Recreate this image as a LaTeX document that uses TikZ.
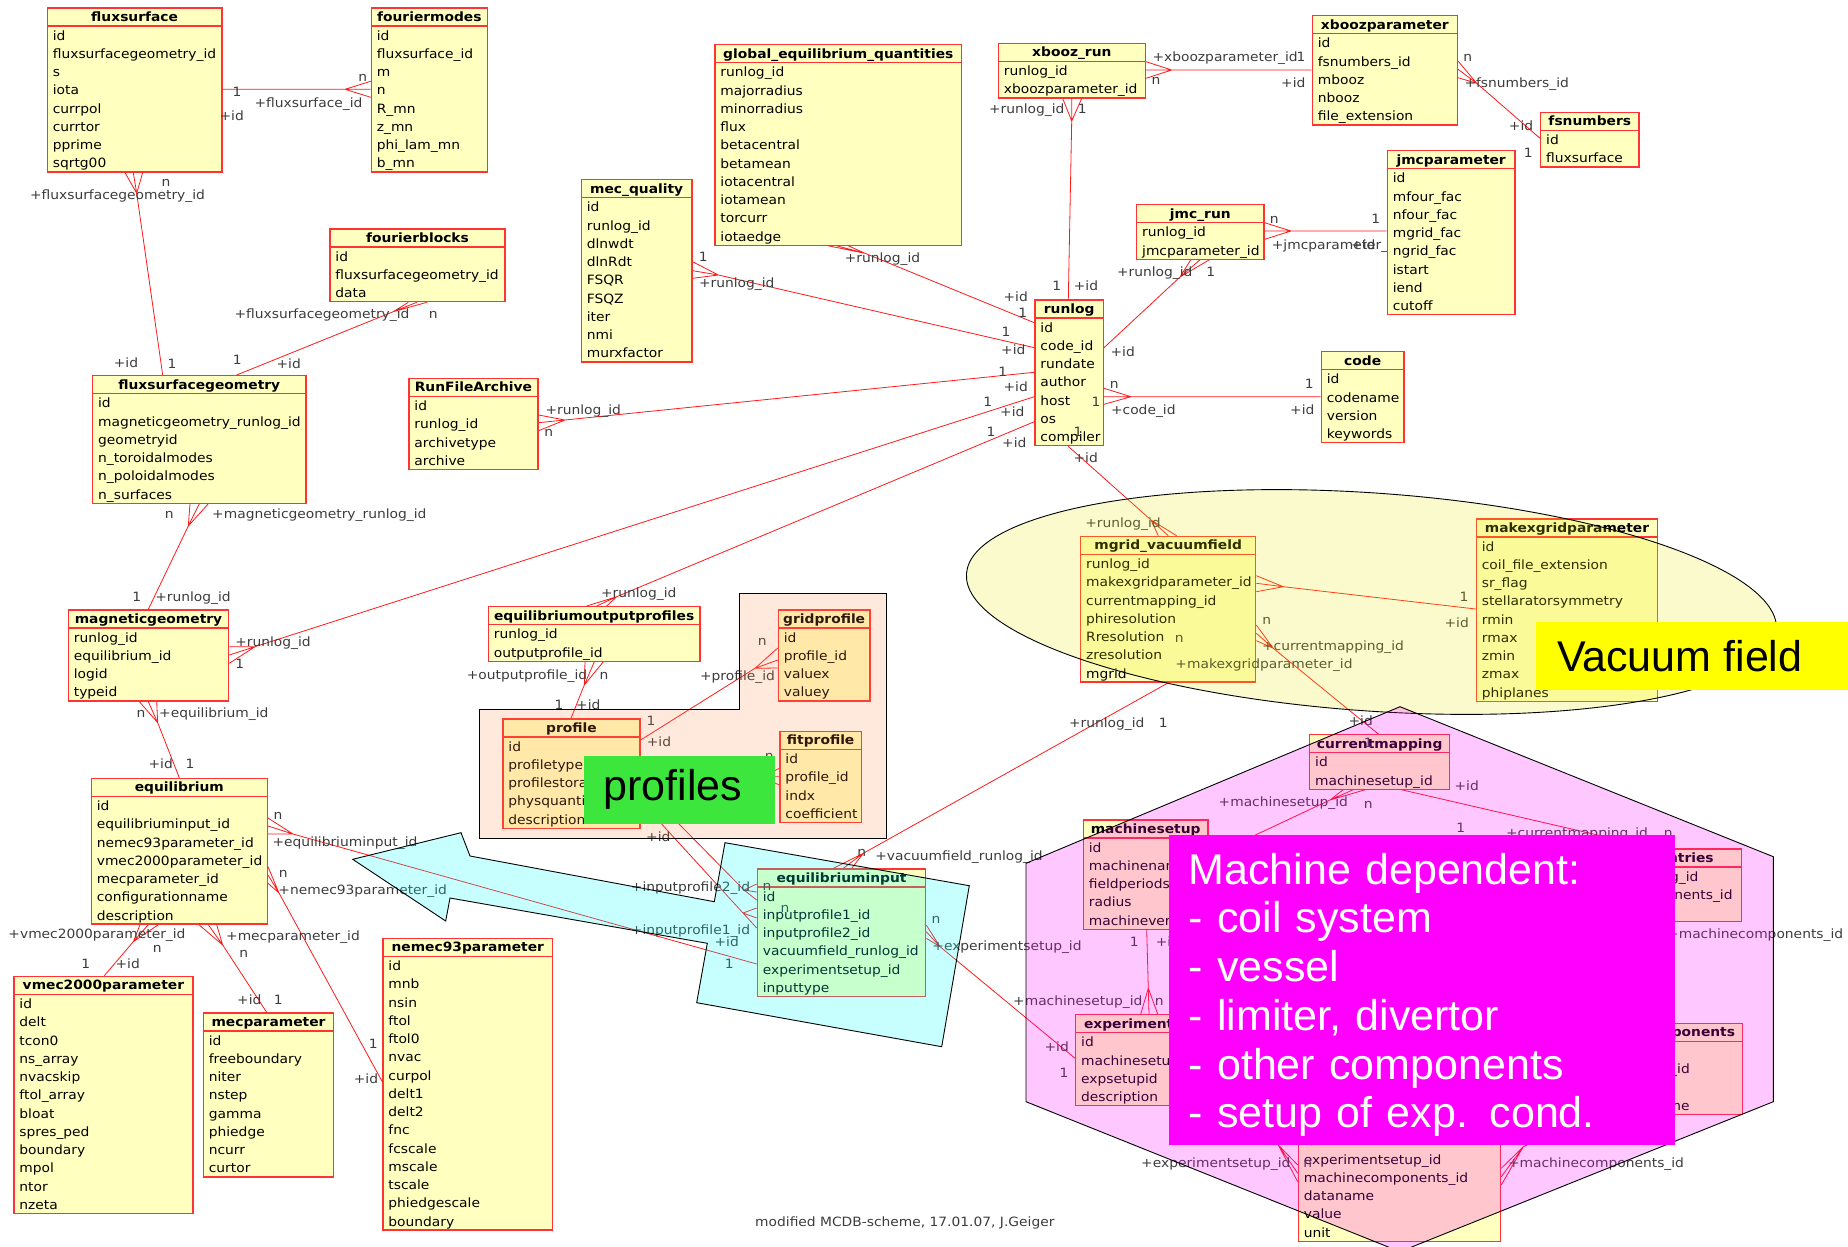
\documentclass[tikz,border=0pt]{standalone}
\usepackage{fontspec}
\newfontfamily\tblfont{DejaVu Sans}[FakeStretch=1.08]
\newfontfamily\bigfont{Liberation Sans}
\definecolor{tabfill}{HTML}{FFFFC0}
\definecolor{tabred}{HTML}{FF3333}
\definecolor{relred}{HTML}{FF1A1A}
\definecolor{lblgray}{HTML}{3C3C3C}
\definecolor{peach}{RGB}{255,128,64}
\definecolor{vacyellow}{RGB}{230,230,0}
\definecolor{profgreen}{HTML}{3DE63D}
\definecolor{capyellow}{RGB}{255,255,0}
\definecolor{capmagenta}{RGB}{255,0,255}
\definecolor{ovlcyan}{RGB}{0,255,255}

\tikzset{
  tabhead/.style={draw=tabred, fill=tabfill, line width=1.3pt, minimum height=18pt, inner sep=0pt,
    font=\tblfont\bfseries\fontsize{12.8}{15}\selectfont, text height=9.7pt, text depth=0.5pt},
  tabbody/.style={draw=tabred, fill=tabfill, line width=1.3pt, inner xsep=5.5pt, inner ysep=0pt,
    align=left, font=\tblfont\fontsize{12.8}{18.25}\selectfont},
  rel/.style={draw=relred, line width=0.8pt},
  lbl/.style={font=\tblfont\fontsize{12.8}{15}\selectfont, text=lblgray, inner sep=0pt,
    text height=9.7pt, text depth=0.5pt},
  ovl/.style={draw=black, line width=0.9pt},
}

\newcounter{lblno}
\newcommand\lb[3]{\stepcounter{lblno}\node[lbl] (lbl\arabic{lblno}) at (#1,#2) {#3};}
\newcommand\lbw[3]{\stepcounter{lblno}\node[lbl,anchor=west] (lbl\arabic{lblno}) at (#1,#2) {#3};}
% one end, branch point, three feet of the crow's foot
\newcommand\relline[5]{\draw[rel] #1 -- #2 -- #3 #2 -- #4 #2 -- #5;}
% name, x, y (top), width, title, rows
\newcommand\dbtab[6]{%
  \pgfmathsetmacro\dbw{#4}%
  \pgfmathsetmacro\dbtw{#4-11}%
  \node[tabhead, minimum width=\dbw pt, anchor=north west] (#1-h) at (#2,#3) {#5};
  \node[tabbody, text width=\dbtw pt, anchor=north west] (#1) at (#2,#3+18)
    {\setbox\strutbox\hbox{\vrule height14.2pt depth4.05pt width0pt}\noindent\begin{tabular}{@{}l@{}}#6\end{tabular}};
}

\begin{document}
\begin{tikzpicture}[x=1pt,y=-1pt]
\fill[white] (0,0) rectangle (1848,1247);
\useasboundingbox (0,0) rectangle (1848,1247);

% ---------------- tables ----------------
\dbtab{fluxsurface}{46.7}{7.3}{174.6}{fluxsurface}{id\\fluxsurfacegeometry\_id\\s\\iota\\currpol\\currtor\\pprime\\sqrtg00}
\dbtab{fouriermodes}{370.7}{7.3}{116}{fouriermodes}{id\\fluxsurface\_id\\m\\n\\R\_mn\\z\_mn\\phi\_lam\_mn\\b\_mn}
\dbtab{fourierblocks}{329.3}{228.3}{175}{fourierblocks}{id\\fluxsurfacegeometry\_id\\data}
\dbtab{fluxsurfacegeometry}{92}{375}{213.3}{fluxsurfacegeometry}{id\\magneticgeometry\_runlog\_id\\geometryid\\n\_toroidalmodes\\n\_poloidalmodes\\n\_surfaces}
\dbtab{magneticgeometry}{67.7}{609.3}{160.3}{magneticgeometry}{runlog\_id\\equilibrium\_id\\logid\\typeid}
\dbtab{equilibrium}{90.7}{777.7}{176}{equilibrium}{id\\equilibriuminput\_id\\nemec93parameter\_id\\vmec2000parameter\_id\\mecparameter\_id\\configurationname\\description}
\dbtab{vmec2000parameter}{13.3}{975.7}{179}{vmec2000parameter}{id\\delt\\tcon0\\ns\_array\\nvacskip\\ftol\_array\\bloat\\spres\_ped\\boundary\\mpol\\ntor\\nzeta}
\dbtab{mecparameter}{202.7}{1012.3}{130.3}{mecparameter}{id\\freeboundary\\niter\\nstep\\gamma\\phiedge\\ncurr\\curtor}
\dbtab{nemec93parameter}{382.3}{937.7}{169.7}{nemec93parameter}{id\\mnb\\nsin\\ftol\\ftol0\\nvac\\curpol\\delt1\\delt2\\fnc\\fcscale\\mscale\\tscale\\phiedgescale\\boundary}
\dbtab{rfa}{408.3}{377.7}{129}{RunFileArchive}{id\\runlog\_id\\archivetype\\archive}
\dbtab{mecquality}{580.7}{179}{110.6}{mec\_quality}{id\\runlog\_id\\dlnwdt\\dlnRdt\\FSQR\\FSQZ\\iter\\nmi\\murxfactor}
\dbtab{geq}{714.3}{44}{246.7}{global\_equilibrium\_quantities}{runlog\_id\\majorradius\\minorradius\\flux\\betacentral\\betamean\\iotacentral\\iotamean\\torcurr\\iotaedge}
\dbtab{runlog}{1034.3}{299.3}{68.4}{runlog}{id\\code\_id\\rundate\\author\\host\\os\\compiler}
\dbtab{xboozrun}{997.7}{42.7}{147}{xbooz\_run}{runlog\_id\\xboozparameter\_id}
\dbtab{xboozparameter}{1311.7}{15}{145}{xboozparameter}{id\\fsnumbers\_id\\mbooz\\nbooz\\file\_extension}
\dbtab{fsnumbers}{1540}{111.7}{98.3}{fsnumbers}{id\\fluxsurface}
\dbtab{jmcrun}{1136}{204}{127.3}{jmc\_run}{runlog\_id\\jmcparameter\_id}
\dbtab{code}{1320.7}{351}{82.6}{code}{id\\codename\\version\\keywords}
\dbtab{mgrid}{1080}{535.7}{175}{mgrid\_vacuumfield}{runlog\_id\\makexgridparameter\_id\\currentmapping\_id\\phiresolution\\Rresolution\\zresolution\\mgrid}
\dbtab{makexgrid}{1475.7}{518.3}{181.3}{makexgridparameter}{id\\coil\_file\_extension\\sr\_flag\\stellaratorsymmetry\\rmin\\rmax\\zmin\\zmax\\phiplanes}
\dbtab{eop}{487.7}{606}{211.6}{equilibriumoutputprofiles}{runlog\_id\\outputprofile\_id}
\dbtab{profile}{502.3}{718.3}{137}{profile}{id\\profiletype\\profilestorage\\physquantity\\description}
\dbtab{gridprofile}{777.7}{609.3}{91.6}{gridprofile}{id\\profile\_id\\valuex\\valuey}
\dbtab{fitprofile}{779.3}{730.7}{81.4}{fitprofile}{id\\profile\_id\\indx\\coefficient}
\dbtab{eqinput}{756.7}{868.3}{168.3}{equilibriuminput}{id\\inputprofile1\_id\\inputprofile2\_id\\vacuumfield\_runlog\_id\\experimentsetup\_id\\inputtype}
\dbtab{currentmapping}{1309}{734}{140}{currentmapping}{id\\machinesetup\_id}
\dbtab{machinesetup}{1082.7}{819.3}{124.6}{machinesetup}{id\\machinename\\fieldperiods\\radius\\machineversion}
\dbtab{expsetup}{1075}{1014}{150}{experimentsetup}{id\\machinesetup\_id\\expsetupid\\description}
\dbtab{mapentries}{1562}{848.3}{179}{mappingentries}{currentmapping\_id\\machinecomponents\_id\\coilnumber}
\dbtab{machinecomp}{1566}{1022.7}{175.7}{machinecomponents}{id\\machinesetup\_id\\type\\componentname}
\dbtab{expdata}{1297.7}{1113}{202.3}{experimentdata}{id\\experimentsetup\_id\\machinecomponents\_id\\dataname\\value\\unit}

% ---------------- relations ----------------
\relline{(fluxsurface.east |- 0,89.3)}{(345,89.3)}{(fouriermodes.west |- 0,81.3)}{(fouriermodes.west |- 0,89.3)}{(fouriermodes.west |- 0,97.3)}
\relline{(fluxsurfacegeometry-h.north -| 162.7,0)}{(136.7,193.3)}{(fluxsurface.south -| 125,0)}{(fluxsurface.south -| 133.3,0)}{(fluxsurface.south -| 142.7,0)}
\relline{(fluxsurfacegeometry-h.north -| 236.7,0)}{(393.3,311.7)}{(fourierblocks.south -| 408.3,0)}{(fourierblocks.south -| 416.7,0)}{(fourierblocks.south -| 426.7,0)}
\relline{(magneticgeometry-h.north -| 148.3,0)}{(188.3,526)}{(fluxsurfacegeometry.south -| 190,0)}{(fluxsurfacegeometry.south -| 199.3,0)}{(fluxsurfacegeometry.south -| 208.3,0)}
\relline{(runlog.west |- 0,396.7)}{(255,646.7)}{(magneticgeometry.east |- 0,646.7)}{(magneticgeometry.east |- 0,655)}{(magneticgeometry.east |- 0,663.3)}
\relline{(equilibrium-h.north -| 179.3,0)}{(157.7,722.7)}{(magneticgeometry.south -| 139.3,0)}{(magneticgeometry.south -| 148.3,0)}{(magneticgeometry.south -| 156.7,0)}
\relline{(eqinput.west |- 0,964)}{(293,834)}{(equilibrium.east |- 0,818)}{(equilibrium.east |- 0,826)}{(equilibrium.east |- 0,834)}
\relline{(nemec93parameter.west |- 0,1081.7)}{(279,893)}{(equilibrium.east |- 0,866.7)}{(equilibrium.east |- 0,875)}{(equilibrium.east |- 0,883.3)}
\relline{(vmec2000parameter-h.north -| 104.3,0)}{(133.3,941.7)}{(equilibrium.south -| 140,0)}{(equilibrium.south -| 148.3,0)}{(equilibrium.south -| 158.3,0)}
\relline{(mecparameter-h.north -| 266.7,0)}{(222.7,945)}{(equilibrium.south -| 199,0)}{(equilibrium.south -| 208.3,0)}{(equilibrium.south -| 216.7,0)}
\relline{(runlog.west |- 0,347.7)}{(718.3,275)}{(mecquality.east |- 0,261.7)}{(mecquality.east |- 0,270.7)}{(mecquality.east |- 0,278.3)}
\relline{(runlog.west |- 0,322.7)}{(865,253.3)}{(geq.south -| 828.3,0)}{(geq.south -| 836.7,0)}{(geq.south -| 848.3,0)}
\relline{(runlog.west |- 0,372.3)}{(565,420)}{(rfa.east |- 0,415)}{(rfa.east |- 0,422.7)}{(rfa.east |- 0,430.7)}
\relline{(runlog.west |- 0,421.7)}{(616.7,596.7)}{(eop-h.north -| 586.7,0)}{(eop-h.north -| 596.7,0)}{(eop-h.north -| 606.7,0)}
\relline{(xboozparameter.west |- 0,70)}{(1171.7,70)}{(xboozrun.east |- 0,61.7)}{(xboozrun.east |- 0,70)}{(xboozrun.east |- 0,78.3)}
\relline{(runlog-h.north -| 1068.3,0)}{(1071.7,121)}{(xboozrun.south -| 1062.7,0)}{(xboozrun.south -| 1071.7,0)}{(xboozrun.south -| 1081.7,0)}
\relline{(fsnumbers.west |- 0,138.3)}{(1476.7,83.3)}{(xboozparameter.east |- 0,61)}{(xboozparameter.east |- 0,69.3)}{(xboozparameter.east |- 0,77.7)}
\relline{(1386.7,231)}{(1291,231)}{(jmcrun.east |- 0,222.7)}{(jmcrun.east |- 0,231)}{(jmcrun.east |- 0,239.3)}
\relline{(runlog.east |- 0,347.7)}{(1180,277)}{(jmcrun.south -| 1190.7,0)}{(jmcrun.south -| 1200,0)}{(jmcrun.south -| 1209.3,0)}
\relline{(code.west |- 0,396.7)}{(1131,396.7)}{(runlog.east |- 0,388.3)}{(runlog.east |- 0,396.7)}{(runlog.east |- 0,404.3)}
\relline{(runlog.south -| 1068.3,0)}{(1151,520)}{(mgrid-h.north -| 1158.3,0)}{(mgrid-h.north -| 1168.3,0)}{(mgrid-h.north -| 1176.7,0)}
\relline{(makexgrid.west |- 0,609)}{(1283.3,586.7)}{(mgrid.east |- 0,575.7)}{(mgrid.east |- 0,583.3)}{(mgrid.east |- 0,591.7)}
\relline{(currentmapping-h.north -| 1378.3,0)}{(1273.3,648.3)}{(mgrid.east |- 0,625)}{(mgrid.east |- 0,633.3)}{(mgrid.east |- 0,640.7)}
\relline{(mgrid.south -| 1168.3,0)}{(863.3,853.3)}{(eqinput-h.north -| 833.3,0)}{(eqinput-h.north -| 843.3,0)}{(eqinput-h.north -| 851.7,0)}
\relline{(profile-h.north -| 571,0)}{(584.3,685)}{(eop.south -| 585,0)}{(eop.south -| 594.3,0)}{(eop.south -| 603.3,0)}
\relline{(profile.east |- 0,740)}{(755,668.3)}{(gridprofile.west |- 0,648)}{(gridprofile.west |- 0,660)}{(gridprofile.west |- 0,668)}
\relline{(profile.east |- 0,777)}{(762,777)}{(fitprofile.west |- 0,768.3)}{(fitprofile.west |- 0,776.7)}{(fitprofile.west |- 0,785)}
\relline{(profile.east |- 0,785)}{(744,890)}{(eqinput.west |- 0,884)}{(eqinput.west |- 0,892)}{(eqinput.west |- 0,900)}
\relline{(profile.east |- 0,801)}{(743,913)}{(eqinput.west |- 0,908)}{(eqinput.west |- 0,918)}{(eqinput.west |- 0,928)}
\relline{(expsetup.west |- 0,1058.3)}{(940,946.7)}{(eqinput.east |- 0,925)}{(eqinput.east |- 0,931.7)}{(eqinput.east |- 0,938.3)}
\relline{(machinesetup.east |- 0,857)}{(1330,800)}{(currentmapping.south -| 1343,0)}{(currentmapping.south -| 1353,0)}{(currentmapping.south -| 1365,0)}
\relline{(currentmapping.south -| 1401.7,0)}{(1608,837.4)}{(mapentries-h.north -| 1630,0)}{(mapentries-h.north -| 1640,0)}{(mapentries-h.north -| 1650,0)}
\relline{(machinecomp-h.north -| 1640,0)}{(1630,950)}{(mapentries.south -| 1615,0)}{(mapentries.south -| 1625,0)}{(mapentries.south -| 1635,0)}
\relline{(machinecomp.south -| 1590,0)}{(1523.3,1146.7)}{(expdata.east |- 0,1168.3)}{(expdata.east |- 0,1176.7)}{(expdata.east |- 0,1185)}
\relline{(expsetup.south -| 1200,0)}{(1278.3,1145)}{(expdata.west |- 0,1165)}{(expdata.west |- 0,1173.3)}{(expdata.west |- 0,1181.7)}
\relline{(machinesetup.south -| 1146.7,0)}{(1148.3,988.3)}{(expsetup-h.north -| 1140.7,0)}{(expsetup-h.north -| 1149,0)}{(expsetup-h.north -| 1157.7,0)}

% ---------------- role and multiplicity labels ----------------
\lb{237}{91.7}{1} \lb{231.7}{116}{+id} \lb{308.5}{102.7}{+fluxsurface\_id} \lb{362.7}{76.7}{n}
\lb{166}{182.3}{n} \lb{117.5}{195}{+fluxsurfacegeometry\_id} \lb{126}{363.3}{+id} \lb{172}{364}{1}
\lb{322}{314.3}{+fluxsurfacegeometry\_id} \lb{433.3}{314}{n} \lb{237.3}{360}{1} \lb{288.7}{364.3}{+id}
\lb{169.3}{514.3}{n} \lb{319.3}{514.3}{+magneticgeometry\_runlog\_id} \lb{136.7}{596.7}{1} \lb{193}{596.7}{+runlog\_id}
\lb{273}{642}{+runlog\_id} \lb{239.7}{664.3}{1} \lb{987.7}{401.7}{1} \lb{1012.3}{412.3}{+id}
\lb{141}{713.3}{n} \lb{213.8}{713.3}{+equilibrium\_id} \lb{160.7}{764.3}{+id} \lb{190}{764.3}{1}
\lb{278}{815}{n} \lb{345}{841.7}{+equilibriuminput\_id} \lb{726.7}{941.7}{+id} \lb{729.3}{964.3}{1}
\lb{283.3}{873.3}{n} \lb{362.7}{890}{+nemec93parameter\_id} \lb{373.3}{1044.3}{1} \lb{366}{1079.3}{+id}
\lb{97}{934}{+vmec2000parameter\_id} \lb{157.3}{948.3}{n} \lb{85.7}{964.3}{1} \lb{127.7}{964.3}{+id}
\lb{293}{935.7}{+mecparameter\_id} \lb{243.7}{953.3}{n} \lb{249.3}{1000}{+id} \lb{278.3}{1000}{1}
\lb{703.3}{256.7}{1} \lb{736.7}{283.3}{+runlog\_id} \lb{1006}{331.7}{1} \lb{1013.3}{350}{+id}
\lb{882.5}{257.7}{+runlog\_id} \lb{1015.7}{297.3}{+id} \lb{1022.7}{313.3}{1}
\lb{583.3}{410}{+runlog\_id} \lb{548.7}{432.3}{n} \lb{1002.7}{371.7}{1} \lb{1015.7}{386.7}{+id}
\lb{638.8}{593.3}{+runlog\_id} \lb{991}{431.7}{1} \lb{1014.3}{443.3}{+id}
\lbw{1152.3}{57.3}{+xboozparameter\_id} \lb{1301}{57.3}{1} \lb{1156}{80}{n} \lb{1293.3}{82.7}{+id}
\lb{1026.7}{109}{+runlog\_id} \lb{1082.3}{109}{1} \lb{1056.7}{286}{1} \lb{1086}{286}{+id}
\lb{1467.7}{56.7}{n} \lb{1516.7}{82.7}{+fsnumbers\_id} \lb{1521}{126}{+id} \lb{1528.3}{152.7}{1}
\lb{1274.3}{219}{n} \lb{1375.7}{219}{1} \lbw{1271.7}{245}{+jmcparameter\_id} \lb{1363.3}{245}{+id}
\lb{1154.7}{272.3}{+runlog\_id} \lb{1210.7}{272.3}{1} \lb{1122.7}{351.7}{+id}
\lb{1114.3}{384}{n} \lb{1096}{401.7}{1} \lb{1143.3}{410}{+code\_id} \lb{1309.3}{384}{1} \lb{1302.3}{410}{+id}
\lb{1078}{432}{1} \lb{1085.7}{458.3}{+id} \lb{1123}{522.7}{+runlog\_id}
\lb{1464}{596.7}{1} \lb{1456.7}{622.7}{+id} \lb{1266.7}{620}{n} \lb{1264}{664.3}{+makexgridparameter\_id}
\lb{1179.3}{637.7}{n} \lb{1333}{646}{+currentmapping\_id} \lb{1360.7}{721}{+id} \lb{1368.3}{743.3}{1}
\lb{1106.7}{722.7}{+runlog\_id} \lb{1163.3}{722.7}{1} \lb{861.7}{852.3}{n} \lb{959}{855.7}{+vacuumfield\_runlog\_id}
\lb{527}{675}{+outputprofile\_id} \lb{604}{675}{n} \lb{559}{705}{1} \lb{588.3}{705}{+id}
\lb{762.3}{640.7}{n} \lb{737.5}{676}{+profile\_id} \lb{651}{720.7}{1} \lb{659}{741.7}{+id}
\lb{769.3}{756}{n}
\lb{690.5}{886.7}{+inputprofile2\_id} \lb{767}{886}{n} \lb{785}{908.3}{n} \lb{690.5}{930}{+inputprofile1\_id} \lb{658.3}{836.7}{+id}
\lb{936}{919.3}{n} \lb{1007}{946}{+experimentsetup\_id} \lb{1056.7}{1046.7}{+id} \lb{1064}{1072.7}{1}
\lb{1283.3}{801.7}{+machinesetup\_id} \lb{1368.3}{804.3}{n}
\lb{1466.7}{785.7}{+id} \lb{1460.7}{828.3}{1} \lb{1577}{833.3}{+currentmapping\_id} \lb{1668.3}{833}{n}
\lbw{1667}{934.3}{+machinecomponents\_id}
\lb{1596}{1163.3}{+machinecomponents\_id}
\lb{1215.8}{1163.3}{+experimentsetup\_id} \lb{1307.7}{1163.3}{n}
\lb{1134.3}{941.7}{1} \lb{1168}{941.7}{+id} \lb{1077.8}{1000.7}{+machinesetup\_id} \lb{1159.3}{1000.7}{n}

% the jmcparameter box lies over the end of its role label
\dbtab{jmcparameter}{1386.7}{150}{127.6}{jmcparameter}{id\\mfour\_fac\\nfour\_fac\\mgrid\_fac\\ngrid\_fac\\istart\\iend\\cutoff}

% ---------------- translucent groupings ----------------
\path[ovl, fill=peach, fill opacity=0.18] (479.3,709.3) -- (739.3,709.3) -- (739.3,593.3) -- (886.7,593.3)
  -- (886.7,838.3) -- (479.3,838.3) -- cycle;
\begin{scope}[rotate around={-4:(1371.5,602)}]
  \path[ovl, fill=vacyellow, fill opacity=0.2] (1371.5,602) ellipse [x radius=406, y radius=109];
\end{scope}
\path[ovl, fill=capmagenta, fill opacity=0.22] (1400,706.7) -- (1773.3,856.7) -- (1773.3,1101.7) -- (1400,1251.7)
  -- (1026,1101.7) -- (1026,863.3) -- cycle;
\path[ovl, fill=ovlcyan, fill opacity=0.22] (352.7,859.3) -- (461,832.7) -- (470,856) -- (714.3,901.7) -- (725,842.7)
  -- (969.3,885.7) -- (941.7,1046.7) -- (696.7,1002.7) -- (707.3,943.3) -- (450,898) -- (445.7,921) -- cycle;

% ---------------- captions ----------------
\node[anchor=north west, fill=profgreen, minimum width=190.3pt, minimum height=67.3pt, inner sep=0pt,
  font=\bigfont\fontsize{43}{49}\selectfont] (proflabel) at (584,756) {\kern-13pt profiles};
\node[anchor=north west, fill=capyellow, minimum width=312.3pt, minimum height=67.6pt, inner sep=0pt,
  font=\bigfont\fontsize{43}{49}\selectfont] (vaclabel) at (1535.7,621.7) {\kern-24.6pt Vacuum field};
\node[anchor=north west, fill=capmagenta, minimum width=506pt, minimum height=310pt, inner xsep=20pt, inner ysep=0pt,
  text width=466pt, align=left, text=white, font=\bigfont\fontsize{43}{48.7}\selectfont] (machlabel) at (1168.3,835)
  {\rule{0pt}{40.5pt}Machine dependent:\\- coil system\\- vessel\\- limiter, divertor\\- other components\\- setup of exp. cond.};
\node[lbl, anchor=west] (footer) at (755,1222.3) {modified MCDB-scheme, 17.01.07, J.Geiger};
\end{tikzpicture}
\end{document}
